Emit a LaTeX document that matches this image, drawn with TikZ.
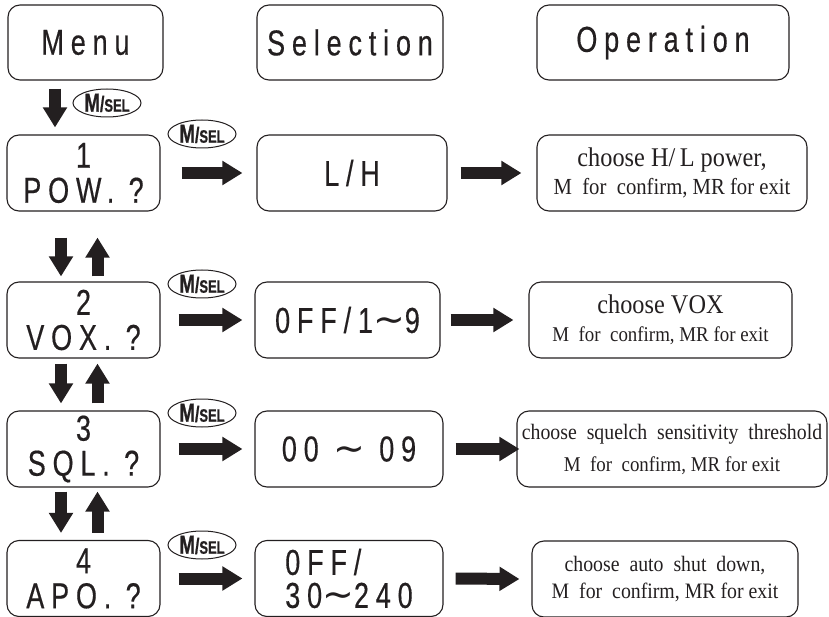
\documentclass[tikz,border=0pt]{standalone}
\usepackage{fontspec}
\setmainfont{Liberation Serif}
\newfontfamily\lcdfont[FakeStretch=0.75,LetterSpace=19,FakeBold=0.4]{Liberation Sans}
\newfontfamily\keyfont[FakeStretch=0.72,FakeBold=0.8]{Liberation Sans}
\newfontfamily\opfont[FakeStretch=0.9]{Liberation Serif}
\newfontfamily\wavefont{DejaVu Sans}
\usetikzlibrary{arrows.meta,shapes.geometric}
\definecolor{ink}{RGB}{35,31,32}
\newcommand{\wave}{{\wavefont\fontsize{38}{38}\selectfont\smash{\char"223C}}}
\newcommand{\msel}{{\fontsize{26}{26}\selectfont M}{\fontsize{22}{22}\selectfont/}{\fontsize{18}{18}\selectfont SEL}}
\newcommand{\opsize}[1]{\fontsize{#1}{#1}\selectfont}

\begin{document}
\begin{tikzpicture}[x=1pt,y=-1pt,
  box/.style={draw=ink,text=ink,line width=1.1pt,rounded corners=12pt,inner sep=0pt,align=center},
  lcd/.style={box,font=\lcdfont\fontsize{36}{35}\selectfont},
  opbox/.style={box,minimum height=76pt},
  keycap/.style={draw=ink,text=ink,line width=1pt,ellipse,minimum width=68pt,minimum height=28pt,inner sep=0pt,font=\keyfont\bfseries},
  blockarrow/.style={draw=ink,line width=12pt,-{Triangle[length=20pt,width=23pt]}}]
  \useasboundingbox (0,0) rectangle (829,617);
  % headings
  \node[lcd,minimum width=155pt,minimum height=75pt] (menu) at (85.5,42.5) {Menu};
  \node[lcd,minimum width=186pt,minimum height=75pt] (selection) at (350,42.5) {Selection};
  \node[lcd,minimum width=252pt,minimum height=75pt] (operation) at (663,42.5) {Operation};
  % menu items
  \node[lcd,minimum width=153pt,minimum height=76pt] (pow) at (83.5,173) {1\\POW. ?};
  \node[lcd,minimum width=153pt,minimum height=76pt] (vox) at (83.5,320) {2\\VOX. ?};
  \node[lcd,minimum width=153pt,minimum height=76pt] (sql) at (83.5,449) {3\\SQL. ?};
  \node[lcd,minimum width=153pt,minimum height=76pt] (apo) at (83.5,578.5) {4\\APO. ?};
  % selections
  \node[lcd,minimum width=190pt,minimum height=76pt] (lh) at (352,173) {L/H};
  \node[lcd,minimum width=185pt,minimum height=76pt] (voxsel) at (347.5,320) {0FF/1\wave9};
  \node[lcd,minimum width=188pt,minimum height=76pt] (sqlsel) at (349,449) {00 \wave\ 09};
  \node[lcd,minimum width=188pt,minimum height=76pt,align=left,font=\lcdfont\fontsize{36}{33}\selectfont] (aposel) at (349,578.5) {0FF/\\30\wave240};
  % operations
  \node[opbox,minimum width=270pt,font=\opfont\opsize{23}] (powop) at (672,173)
    {{\opsize{27}choose H/\,L power,}\\[5pt]M\ \ for\ \ confirm, MR for exit};
  \node[opbox,minimum width=263pt,font=\opfont\opsize{21}] (voxop) at (660.5,320)
    {{\opsize{27}choose VOX}\\[7pt]M\ \ for\ \ confirm, MR for exit};
  \node[opbox,minimum width=310pt,font=\opfont\opsize{21}] (sqlop) at (672,449)
    {{\opsize{22}choose\ \ squelch\ \ sensitivity\ \ threshold}\\[11pt]M\ \ for\ \ confirm, MR for exit};
  \node[opbox,minimum width=266pt,font=\opfont\opsize{22}] (apoop) at (665,579)
    {choose\ \ auto\ \ shut\ \ down,\\[5pt]M\ \ for\ \ confirm, MR for exit};
  % keys
  \node[keycap] (key0) at (107,103) {\msel};
  \node[keycap] (key1) at (202,134) {\msel};
  \node[keycap] (key2) at (202,284) {\msel};
  \node[keycap] (key3) at (202,413) {\msel};
  \node[keycap] (key4) at (202,545) {\msel};
  % arrows
  \draw[blockarrow] ([xshift=-30.5pt,yshift=-8pt]menu.south) -- ([xshift=-28.5pt,yshift=7pt]pow.north);
  \draw[blockarrow] ([xshift=-22.5pt,yshift=-26pt]pow.south) -- ([xshift=-22.5pt,yshift=5pt]vox.north);
  \draw[blockarrow] ([xshift=14pt,yshift=5pt]vox.north) -- ([xshift=14pt,yshift=-26pt]pow.south);
  \draw[blockarrow] ([xshift=-22.5pt,yshift=-5pt]vox.south) -- ([xshift=-22.5pt,yshift=7pt]sql.north);
  \draw[blockarrow] ([xshift=14pt,yshift=7pt]sql.north) -- ([xshift=14pt,yshift=-5pt]vox.south);
  \draw[blockarrow] ([xshift=-22.5pt,yshift=-4pt]sql.south) -- ([xshift=-22.5pt,yshift=7pt]apo.north);
  \draw[blockarrow] ([xshift=14pt,yshift=7pt]apo.north) -- ([xshift=14pt,yshift=-4pt]sql.south);
  \draw[blockarrow] ([xshift=21pt]pow.east) -- ([xshift=-14pt]lh.west);
  \draw[blockarrow] ([xshift=18pt]vox.east) -- ([xshift=-12pt]voxsel.west);
  \draw[blockarrow] ([xshift=18pt]sql.east) -- ([xshift=-12pt]sqlsel.west);
  \draw[blockarrow] ([xshift=18pt]apo.east) -- ([xshift=-12pt]aposel.west);
  \draw[blockarrow] ([xshift=13pt]lh.east) -- ([xshift=-15pt]powop.west);
  \draw[blockarrow] ([xshift=10pt]voxsel.east) -- ([xshift=-15pt]voxop.west);
  \draw[blockarrow] ([xshift=12pt]sqlsel.east) -- ([xshift=3pt]sqlop.west);
  \draw[blockarrow] ([xshift=12pt]aposel.east) -- ([xshift=-12pt]apoop.west);
\end{tikzpicture}
\end{document}
